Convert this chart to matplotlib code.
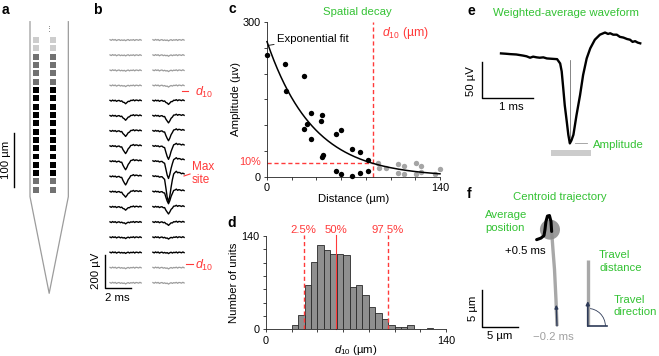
import numpy as np
import matplotlib
matplotlib.use("Agg")
import matplotlib.pyplot as plt
from matplotlib.patches import Rectangle, Circle, Arc

plt.rcParams['font.family'] = ['Liberation Sans', 'DejaVu Sans']
plt.rcParams['mathtext.fontset'] = 'custom'
plt.rcParams['mathtext.rm'] = 'Liberation Sans'
plt.rcParams['mathtext.it'] = 'Liberation Sans:italic'
plt.rcParams['font.size'] = 8.2

W, H = 659, 356
GREEN = '#33c233'
RED = '#ff3a3a'
LGRAY = '#9c9c9c'
NAVY = '#2e3b58'
FS = 8.2

# ---- a: probe layout (um) ----
probe_width = 71
shank_length = 324
tip_length = 179
site_cols = [11.5, 43.0]
site_pitch = 15.4
site_size = 11
first_site = 34
site_shade = ['#cdcdcd', '#cdcdcd', '#727272', '#727272', '#727272', '#727272',
              'black', 'black', 'black', 'black', 'black', 'black', 'black',
              'black', 'black', 'black', 'black', '#727272', '#727272']

# ---- b: waveform on each site (ms, normalised) ----
trace_t = [0.0, 0.1, 0.2, 0.3, 0.4, 0.5, 0.6, 0.7, 0.8, 0.9, 1.0, 1.1, 1.2,
           1.3, 1.4, 1.5, 1.6, 1.7, 1.8, 1.9, 2.0, 2.1, 2.2, 2.3, 2.4]
trace_shape = [0.02, 0.02, 0.01, 0.01, 0.0, 0.0, -0.01, -0.02, -0.04, -0.12,
               -0.45, -0.85, -1.0, -0.8, -0.45, -0.1, 0.1, 0.18, 0.2, 0.18,
               0.16, 0.15, 0.13, 0.12, 0.12]
trace_noise = [0.3, -0.4, 0.6, -0.2, 0.5, -0.6, 0.1, 0.4, -0.5, 0.2, -0.3, 0.5,
               -0.4, 0.3, 0.6, -0.5, 0.2, -0.3, 0.4, -0.6, 0.3, 0.1, -0.4, 0.5, -0.2]
amp_left = [2, 2, 3, 4, 16, 24, 30, 42, 48, 48, 30, 17, 8, 5, 3, 4, 4]
amp_right = [3, 4, 5, 7, 20, 40, 56, 77, 101, 150, 70, 40, 17, 8, 4, 5, 5]
beyond_d10 = [True, True, True, True, False, False, False, False, False, False,
              False, False, False, False, False, True, True]

# ---- c: amplitude vs distance ----
c_dist = [0, 14.8, 15.3, 30, 30, 32.3, 35.3, 35.3, 44, 44.8, 44.6, 45, 55.5,
          55.5, 60, 60, 68.4, 68.4, 75.5, 75.5, 82, 82, 90.2, 90.8, 96, 105.8,
          105.8, 110.5, 110.5, 120.9, 120.9, 125, 125, 136, 139.7]
c_amp = [237, 218, 166, 195, 92, 103, 123, 74, 108, 120, 39, 42, 84, 11, 90, 6,
         55, 2, 48, 7, 33, 12, 28, 18, 18, 25, 8, 22, 6, 28, 5, 21, 10, 6, 15]
fit_amp0 = 262
d10 = 86

# ---- d: histogram of d10 ----
bin_left = [15, 20, 25, 30, 35, 40, 45, 50, 55, 60, 65, 70, 75, 80, 85, 90, 95,
            100, 105, 110, 115, 120, 125, 130, 135]
hist_counts = [1, 7, 21, 66, 101, 126, 119, 113, 113, 111, 64, 66, 51, 33, 25,
               15, 7, 4, 4, 6, 0, 1, 2, 1, 1]
bin_width = 5
pct_lo, pct_med, pct_hi = 29.4, 54.1, 94.9

# ---- e: weighted-average waveform ----
wave_t = [0, 0.1, 0.18, 0.3, 0.43, 0.5, 0.57, 0.63, 0.7, 0.76, 0.83, 0.9, 1.0,
          1.1, 1.16, 1.19, 1.22, 1.25, 1.29, 1.32, 1.35, 1.38, 1.42, 1.48, 1.55,
          1.61, 1.68, 1.75, 1.84, 1.94, 2.04, 2.1, 2.14, 2.2, 2.27, 2.33, 2.4,
          2.47, 2.53, 2.58, 2.63, 2.68, 2.73]
wave_uv = [5, 4.5, 4, 3.5, 2, 1, -1, 0.5, -0.5, -1, -0.5, -2, -2.5, -3, -9, -20,
           -43, -67, -90, -108, -120, -116, -108, -81, -53, -25, -2, 12, 24, 31,
           34, 32, 33, 31, 31, 28, 27, 25, 24, 21, 22, 20, 19]
trough_t = 1.35
window = (0.99, 1.76)

# ---- f: centroid trajectory (um) ----
traj_early_x = [0, -0.14, -0.34, -0.55, -0.73]
traj_early_y = [0, 3.6, 7.7, 10.4, 12.9]
traj_late_x = [-0.73, -0.82, -1.03, -1.3, -1.51, -1.64, -1.78, -2.19, -2.78]
traj_late_y = [12.9, 14.25, 15.07, 15.0, 14.25, 13.15, 12.33, 11.99, 11.78]
avg_pos = (-0.96, 13.15)
avg_radius = 1.37
travel_distance = 9.0
travel_angle = 90

fig = plt.figure(figsize=(W / 100, H / 100), dpi=100)


def px_axes(x0, y0, x1, y1):
    return fig.add_axes([x0 / W, 1 - y1 / H, (x1 - x0) / W, (y1 - y0) / H])


def scaled_axes(box, origin, sx, sy, flip_y=False):
    # axes whose data units map to a fixed number of pixels
    x0, y0, x1, y1 = box
    ox, oy = origin
    ax = px_axes(*box)
    ax.set_xlim((x0 - ox) / sx, (x1 - ox) / sx)
    if flip_y:
        ax.set_ylim((y1 - oy) / sy, (y0 - oy) / sy)
    else:
        ax.set_ylim((oy - y1) / sy, (oy - y0) / sy)
    ax.axis('off')
    return ax


# ---------- a ----------
ax_a = scaled_axes((0, 12, 92, 300), (30, 21.7), 0.54, 0.54, flip_y=True)
ax_a.plot([0, 0, probe_width / 2, probe_width, probe_width],
          [0, shank_length, shank_length + tip_length, shank_length, 0],
          color=LGRAY, lw=0.9)
for i, shade in enumerate(site_shade):
    for cx in site_cols:
        ax_a.add_patch(Rectangle((cx - site_size / 2, first_site + i * site_pitch - site_size / 2),
                                 site_size, site_size, color=shade, lw=0))
ax_a.text(36, 12, '⋮', family='DejaVu Sans', fontsize=5, ha='center', va='center', color='#555')
ax_a.plot([-29.6, -29.6], [207, 307], color='black', lw=1)

# ---------- b ----------
ax_b = scaled_axes((85, 25, 225, 305), (110, 40), 13, 0.165)
row_gap = 92
col_gap = 3.3
t_b = np.array(trace_t)
for i in range(len(amp_left)):
    base = -i * row_gap
    col = LGRAY if beyond_d10[i] else 'black'
    for j, amps in enumerate([amp_left, amp_right]):
        v = amps[i] * np.array(trace_shape) + 6 * np.array(trace_noise)
        ax_b.plot(t_b + j * col_gap, base + v, color=col, lw=1.0 if not beyond_d10[i] else 0.9)
ax_b.plot([-0.42, -0.42, 1.58], [-1303, -1503, -1503], color='black', lw=1)

# ---------- c ----------
ax_c = px_axes(267, 22, 440, 177)
inside = np.array(c_dist) <= d10
ax_c.scatter(np.array(c_dist)[inside], np.array(c_amp)[inside], s=15, color='black', lw=0,
             clip_on=False, zorder=3)
ax_c.scatter(np.array(c_dist)[~inside], np.array(c_amp)[~inside], s=15, color='#a5a5a5', lw=0,
             clip_on=False, zorder=3)
fx = np.linspace(0, 140, 200)
ax_c.plot(fx, fit_amp0 * np.exp(-fx * np.log(10) / d10), color='black', lw=1.1, zorder=4, clip_on=False)
ax_c.plot([d10, d10], [0, 300], color=RED, lw=1, ls=(0, (3, 2)), clip_on=False)
ax_c.plot([0, d10], [fit_amp0 / 10, fit_amp0 / 10], color=RED, lw=1, ls=(0, (3, 2)))
ax_c.annotate('Exponential fit', xy=(1.6, 255), xytext=(8, 267), va='center', fontsize=FS,
              arrowprops=dict(arrowstyle='-', color='black', lw=0.6, shrinkA=0, shrinkB=0))
ax_c.text(-5, fit_amp0 / 10 + 2, '10%', color=RED, ha='right', va='center', fontsize=7.8)
ax_c.text(93, 278, r'$d_{10}$ (µm)', color=RED, ha='left', va='center', fontsize=8.8)
ax_c.set_xlim(0, 140)
ax_c.set_ylim(0, 300)
ax_c.set_xticks(range(0, 141, 20))
ax_c.set_xticklabels(['0', '', '', '', '', '', '', '140'])
ax_c.set_yticks(range(0, 301, 50))
ax_c.set_yticklabels(['0', '', '', '', '', '', '300'])
ax_c.set_xlabel('Distance (µm)', fontsize=FS)
ax_c.set_ylabel('Amplitude (µv)', fontsize=FS)
ax_c.xaxis.set_label_coords(0.5, -0.11)
ax_c.yaxis.set_label_coords(-0.15, 0.5)

# ---------- d ----------
ax_d = px_axes(266, 236, 446, 329.3)
ax_d.bar(bin_left, hist_counts, width=bin_width, align='edge', color='#8f8f8f',
         edgecolor='#2a2a2a', lw=0.6)
ax_d.plot([pct_lo, pct_lo], [0, 142], color=RED, lw=1, ls=(0, (3, 2)), clip_on=False)
ax_d.plot([pct_hi, pct_hi], [0, 142], color=RED, lw=1, ls=(0, (3, 2)), clip_on=False)
ax_d.plot([pct_med, pct_med], [0, 142], color=RED, lw=0.8, clip_on=False)
for xv, lab in [(pct_lo, '2.5%'), (pct_med, '50%'), (pct_hi, '97.5%')]:
    ax_d.text(xv, 149, lab, color=RED, ha='center', va='center', fontsize=FS)
ax_d.set_xlim(0, 140)
ax_d.set_ylim(0, 140)
ax_d.set_xticks(range(0, 141, 20))
ax_d.set_xticklabels(['0', '', '', '', '', '', '', '140'])
ax_d.set_yticks(range(0, 141, 20))
ax_d.set_yticklabels(['0', '', '', '', '', '', '', '140'])
ax_d.set_xlabel(r'$d_{10}$ (µm)', fontsize=FS)
ax_d.set_ylabel('Number of units', fontsize=FS)
ax_d.xaxis.set_label_coords(0.5, -0.15)
ax_d.yaxis.set_label_coords(-0.15, 0.5)

for ax in (ax_c, ax_d):
    for s in ('top', 'right'):
        ax.spines[s].set_visible(False)
    for s in ('left', 'bottom'):
        ax.spines[s].set_linewidth(0.6)
        ax.spines[s].set_color('#222')
    ax.tick_params(length=2.5, width=0.6, labelsize=7.8, pad=2, color='#222')

# ---------- e ----------
ax_e = scaled_axes((455, 20, 655, 168), (501, 57), 51, 0.72)
ax_e.plot(wave_t, wave_uv, color='black', lw=1.7, solid_joinstyle='round')
ax_e.plot([trough_t, trough_t], [-4, -113], color='#555', lw=0.5)
ax_e.plot([trough_t + 0.1, trough_t + 0.33], [min(wave_uv), min(wave_uv)], color='#999', lw=0.6)
ax_e.add_patch(Rectangle((window[0], -138), window[1] - window[0], 9, color='#cccccc', lw=0))
ax_e.plot([-0.373, -0.373, 0.627], [-7, -57, -57], color='black', lw=1)

# ---------- f ----------
ax_f = scaled_axes((465, 200, 659, 345), (557, 326), 7.33, 7.33)
ax_f.plot(traj_early_x, traj_early_y, color='#a8a8a8', lw=2.4, solid_capstyle='butt', zorder=2)
ax_f.add_patch(Circle(avg_pos, avg_radius, color='#8a8a8a', alpha=0.85, lw=0, zorder=3))
ax_f.plot(traj_late_x, traj_late_y, color='black', lw=2.2, solid_capstyle='round', zorder=4)
ax_f.annotate('', xy=(-0.1, 2.9), xytext=(0, 0),
              arrowprops=dict(arrowstyle='-|>', color=NAVY, lw=1, mutation_scale=5,
                              shrinkA=0, shrinkB=0), zorder=5)
ox, oy = 4.2, 0.0
ang = np.deg2rad(travel_angle)
ax_f.plot([ox, ox + travel_distance * np.cos(ang)], [oy, oy + travel_distance * np.sin(ang)],
          color='#a8a8a8', lw=2.4, solid_capstyle='butt', zorder=2)
ax_f.annotate('', xy=(ox + 3.4 * np.cos(ang), oy + 3.4 * np.sin(ang)), xytext=(ox, oy),
              arrowprops=dict(arrowstyle='-|>', color=NAVY, lw=1.2, mutation_scale=5,
                              shrinkA=0, shrinkB=0), zorder=5)
ax_f.plot([ox, ox + 2.6], [oy, oy], color=NAVY, lw=1.2, zorder=5)
ax_f.add_patch(Arc((ox, oy), 4.8, 4.8, theta1=0, theta2=travel_angle, color=NAVY, lw=0.6))
ax_f.plot([-10.3, -10.3, -5.3], [4.9, -0.1, -0.1], color='black', lw=1)

# ---------- text overlay (pixel coordinates) ----------
ax_t = fig.add_axes([0, 0, 1, 1], zorder=10)
ax_t.set_xlim(0, W)
ax_t.set_ylim(H, 0)
ax_t.axis('off')


def txt(x, y, s, **kw):
    kw.setdefault('ha', 'center')
    kw.setdefault('va', 'center')
    kw.setdefault('fontsize', FS)
    ax_t.text(x, y, s, **kw)


for x, y, s in [(5, 10, 'a'), (97, 10, 'b'), (232, 9, 'c'), (232, 223, 'd'),
                (471, 11, 'e'), (469, 194, 'f')]:
    txt(x, y, s, fontsize=10, fontweight='bold')
txt(6, 160, '100 µm', rotation=90)
txt(96, 271, '200 µV', rotation=90)
txt(117, 298, '2 ms')
ax_t.plot([182, 188], [91, 91], color=RED, lw=0.8)
txt(195, 92, r'$d_{10}$', color=RED, fontsize=9, ha='left')
ax_t.plot([186, 193], [264, 264], color=RED, lw=0.8)
txt(195, 265, r'$d_{10}$', color=RED, fontsize=9, ha='left')
ax_t.plot([184, 190], [176, 174], color=RED, lw=0.8)
txt(192, 167, 'Max', color=RED, fontsize=8.5, ha='left')
txt(192, 180, 'site', color=RED, fontsize=8.5, ha='left')
txt(357, 12, 'Spatial decay', color=GREEN)
txt(566, 13, 'Weighted-average waveform', color=GREEN)
txt(593, 145, 'Amplitude', color=GREEN, ha='left')
txt(471, 81, '50 µV', rotation=90)
txt(511, 107, '1 ms')
txt(560, 197, 'Centroid trajectory', color=GREEN)
txt(485, 215, 'Average', color=GREEN, ha='left')
txt(485, 228, 'position', color=GREEN, ha='left')
txt(525, 251, '+0.5 ms')
txt(553, 337, '\u22120.2 ms', color='#a0a0a0')
txt(599, 255, 'Travel', color=GREEN, ha='left')
txt(599, 268, 'distance', color=GREEN, ha='left')
txt(614, 300, 'Travel', color=GREEN, ha='left')
txt(614, 312, 'direction', color=GREEN, ha='left')
txt(473, 308, '5 µm', rotation=90)
txt(500, 336, '5 µm')

fig.savefig('out.png', dpi=100)
